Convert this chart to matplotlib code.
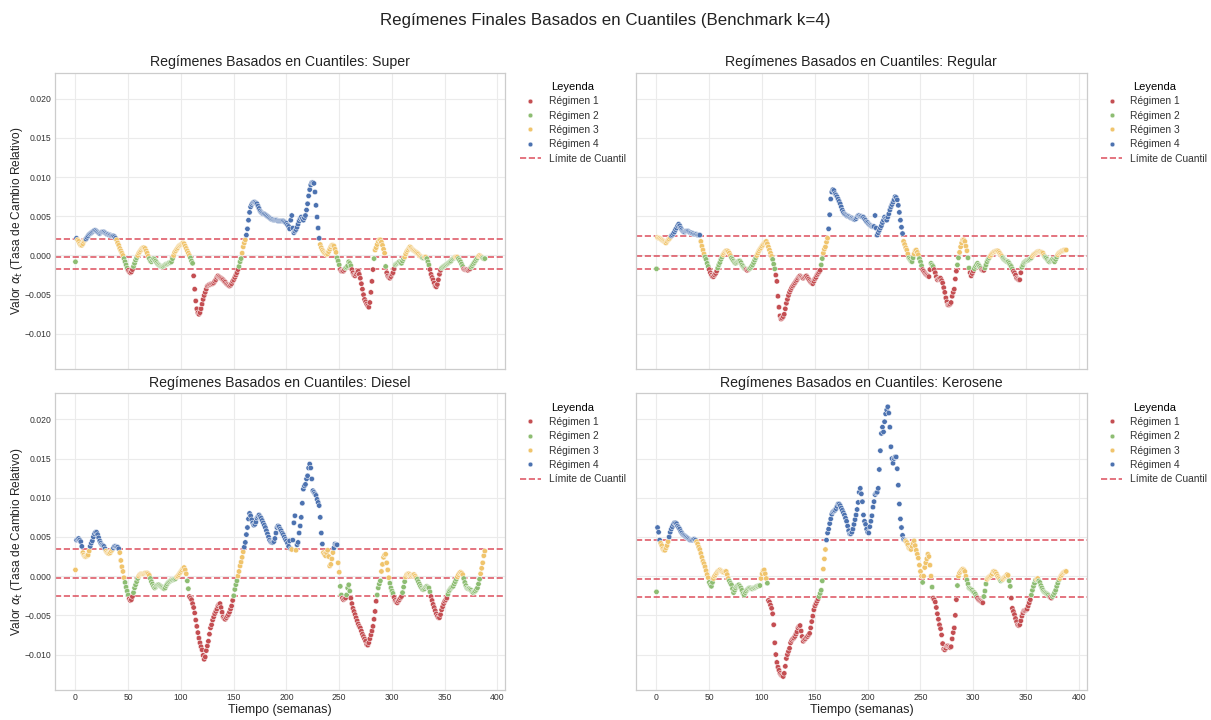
import numpy as np
import matplotlib
matplotlib.use("Agg")
import matplotlib.pyplot as plt
from matplotlib.lines import Line2D

plt.rcParams['font.family'] = ['Liberation Sans', 'DejaVu Sans']

# ---- data: alpha_t values in units of 1e-4, weekly (t = 0..388) ----
super_e4 = [
    -8, 22, 20, 18, 15, 13, 13, 15, 18, 20,
    21, 23, 25, 27, 28, 29, 30, 31, 32, 32,
    31, 30, 29, 28, 29, 30, 30, 30, 29, 28,
    27, 27, 26, 26, 25, 25, 25, 24, 22, 20,
    16, 13, 9, 6, 3, 0, -4, -8, -12, -16,
    -19, -21, -22, -21, -18, -14, -10, -6, -3, 0,
    3, 5, 7, 9, 10, 10, 9, 6, 3, -1,
    -4, -7, -8, -6, -4, -5, -7, -9, -11, -12,
    -13, -14, -14, -14, -13, -12, -11, -11, -10, -9,
    -9, -8, -4, 0, 4, 6, 8, 10, 12, 13,
    14, 15, 16, 15, 12, 9, 6, 3, 0, -3,
    -7, -10, -26, -43, -58, -68, -73, -75, -73, -68,
    -62, -56, -51, -47, -43, -39, -38, -37, -37, -36,
    -36, -35, -33, -31, -28, -26, -27, -28, -29, -30,
    -31, -33, -34, -36, -37, -38, -39, -38, -36, -33,
    -31, -28, -25, -22, -18, -14, -8, -4, 3, 11,
    16, 20, 26, 34, 45, 55, 62, 65, 67, 68,
    68, 67, 66, 63, 60, 57, 55, 54, 53, 53,
    52, 51, 50, 49, 48, 47, 46, 46, 45, 45,
    45, 45, 44, 44, 44, 44, 44, 44, 43, 42,
    41, 39, 37, 34, 45, 51, 35, 29, 31, 33,
    36, 40, 44, 47, 49, 47, 45, 48, 51, 58,
    66, 76, 84, 90, 93, 93, 92, 81, 64, 49,
    35, 22, 14, 10, 7, 5, 3, 2, 1, 2,
    5, 8, 11, 13, 13, 12, 8, 4, -3, -7,
    -12, -18, -20, -20, -20, -18, -16, -15, -13, -8,
    -10, -13, -18, -22, -25, -26, -24, -22, -20, -24,
    -29, -36, -43, -50, -56, -59, -62, -64, -66, -60,
    -47, -33, -18, -4, 7, 10, 14, 18, 20, 20,
    17, 13, 8, 3, -14, -22, -26, -28, -29, -27,
    -24, -22, -17, -12, -11, -10, -9, -8, -9, -10,
    -7, -4, -2, 2, 5, 7, 9, 11, 10, 8,
    7, 6, 5, 4, 3, 2, 0, -1, -2, -3,
    -3, -2, -2, -4, -8, -12, -18, -24, -28, -31,
    -35, -39, -40, -37, -31, -24, -19, -16, -15, -14,
    -13, -12, -11, -10, -9, -8, -7, -5, -4, -3,
    -2, -2, -2, -4, -6, -8, -11, -14, -17, -18,
    -18, -18, -19, -18, -17, -15, -13, -11, -9, -7,
    -5, -3, -1, 0, -1, -2, -3, -4, -4,
]

regular_e4 = [
    -17, 23, 22, 22, 21, 20, 19, 18, 17, 16,
    18, 20, 21, 23, 25, 26, 28, 30, 33, 35,
    38, 40, 38, 35, 33, 31, 30, 30, 31, 31,
    31, 30, 29, 29, 28, 28, 27, 27, 27, 26,
    26, 26, 18, 12, 7, 2, -2, -5, -10, -14,
    -18, -22, -25, -27, -27, -25, -23, -20, -16, -12,
    -9, -5, -2, 1, 3, 5, 6, 6, 5, 3,
    0, -3, -5, -7, -9, -10, -9, -8, -7, -7,
    -9, -12, -14, -16, -17, -18, -19, -18, -17, -16,
    -14, -12, -9, -6, -3, 0, 3, 6, 8, 10,
    12, 14, 16, 17, 18, 15, 11, 7, 3, -1,
    -5, -11, -17, -25, -33, -52, -66, -77, -81, -80,
    -78, -75, -68, -61, -56, -51, -47, -44, -41, -39,
    -37, -35, -33, -31, -29, -27, -26, -27, -28, -29,
    -28, -27, -26, -28, -30, -32, -34, -35, -36, -33,
    -30, -28, -25, -23, -21, -19, -12, -4, 3, 8,
    11, 17, 22, 34, 52, 72, 81, 84, 83, 79,
    77, 75, 72, 69, 66, 62, 58, 55, 53, 52,
    51, 50, 50, 49, 48, 48, 47, 46, 46, 47,
    49, 51, 51, 50, 50, 49, 49, 47, 45, 43,
    42, 40, 39, 38, 37, 37, 37, 51, 35, 26,
    29, 32, 35, 38, 42, 45, 49, 47, 45, 49,
    53, 58, 62, 65, 68, 71, 75, 74, 71, 64,
    55, 45, 36, 28, 18, 14, 10, 7, 2, -3,
    -5, -7, -8, -3, 2, 6, 7, 4, 1, -4,
    -8, -13, -18, -20, -22, -24, -25, -26, -27, -18,
    -10, -12, -14, -18, -22, -27, -31, -30, -29, -29,
    -32, -35, -41, -47, -54, -59, -63, -63, -62, -60,
    -52, -47, -43, -30, -20, -12, -3, 4, 11, 16,
    20, 20, 18, 12, 6, -3, -16, -22, -26, -23,
    -20, -17, -14, -12, -10, -12, -14, -16, -18, -19,
    -19, -16, -12, -8, -5, -3, -1, 1, 3, 4,
    5, 5, 6, 6, 5, 3, 1, -1, -3, -5,
    -6, -7, -8, -8, -10, -12, -14, -17, -20, -22,
    -25, -29, -30, -31, -31, -22, -15, -12, -9, -8,
    -7, -6, -6, -5, -4, -3, -1, 1, 2, 3,
    4, 5, 5, 5, 4, 4, 3, 0, -2, -3,
    -5, -7, -8, -7, -6, -5, -6, -8, -5, -2,
    1, 3, 4, 5, 6, 6, 7, 7, 7,
]

diesel_e4 = [
    8, 46, 47, 48, 46, 44, 38, 30, 27, 25,
    25, 26, 27, 32, 38, 42, 45, 50, 54, 56,
    56, 53, 49, 45, 42, 40, 39, 38, 35, 32,
    30, 29, 29, 30, 32, 34, 36, 38, 38, 37,
    37, 35, 30, 20, 12, 6, -2, -8, -14, -19,
    -24, -29, -31, -30, -26, -21, -15, -11, -7, -3,
    0, 2, 3, 3, 3, 3, 4, 4, 4, 3,
    1, -3, -7, -10, -13, -15, -14, -12, -11, -11,
    -12, -13, -14, -15, -16, -15, -12, -10, -8, -7,
    -6, -5, -5, -4, -4, -3, -1, 0, 2, 4,
    6, 8, 10, 11, 8, 3, -6, -16, -26, -28,
    -30, -35, -40, -47, -56, -64, -72, -79, -85, -90,
    -94, -101, -106, -103, -95, -89, -83, -74, -66, -62,
    -56, -52, -48, -45, -42, -38, -36, -35, -40, -46,
    -52, -54, -55, -53, -51, -49, -46, -42, -38, -31,
    -25, -17, -11, -6, 0, 6, 13, 18, 24, 31,
    37, 43, 53, 62, 73, 80, 77, 72, 68, 65,
    66, 69, 74, 76, 78, 76, 74, 71, 68, 65,
    62, 58, 54, 50, 46, 44, 43, 43, 44, 48,
    55, 62, 64, 63, 60, 58, 55, 53, 50, 47,
    45, 42, 38, 45, 35, 34, 46, 68, 77, 33,
    40, 43, 55, 64, 75, 93, 111, 115, 117, 124,
    128, 138, 143, 138, 124, 109, 107, 105, 103, 98,
    94, 90, 75, 55, 41, 30, 28, 26, 30, 33,
    25, 13, 15, 22, 30, 36, 41, 40, 40, 17,
    5, -13, -24, -28, -30, -29, -28, -24, -15, -11,
    -19, -28, -35, -41, -45, -49, -53, -57, -61, -64,
    -66, -70, -74, -77, -80, -83, -87, -88, -85, -80,
    -75, -70, -64, -55, -45, -32, -24, -15, -10, -6,
    6, 15, 24, 27, 28, 17, 8, -2, -9, -15,
    -19, -22, -27, -31, -33, -34, -32, -30, -28, -26,
    -21, -14, -7, -1, 2, 3, 3, 2, 0, 1,
    2, 2, 0, -2, -4, -7, -10, -13, -15, -17,
    -17, -16, -14, -13, -14, -15, -20, -26, -31, -36,
    -40, -44, -48, -51, -53, -53, -49, -43, -39, -35,
    -32, -30, -28, -23, -19, -17, -15, -14, -13, -10,
    -7, -4, -1, 2, 4, 5, 4, 2, -3, -8,
    -12, -15, -16, -16, -17, -18, -20, -21, -20, -19,
    -17, -15, -10, -4, 3, 10, 17, 26, 32,
]

kerosene_e4 = [
    -20, 62, 56, 46, 42, 39, 35, 33, 33, 36,
    39, 44, 50, 56, 60, 63, 66, 68, 68, 67,
    64, 62, 60, 57, 55, 53, 52, 51, 50, 49,
    48, 47, 46, 46, 46, 47, 47, 46, 44, 41,
    37, 34, 29, 24, 19, 16, 12, 7, 2, -2,
    -8, -11, -13, -8, -3, 0, 2, 4, 6, 7,
    8, 7, 6, 5, 5, 6, 6, 2, -3, -6,
    -9, -11, -16, -21, -18, -15, -13, -12, -11, -13,
    -15, -18, -22, -24, -21, -19, -17, -16, -15, -15,
    -16, -16, -15, -15, -14, -13, -13, -12, -12, -3,
    3, 7, 8, 3, -3, -9, -31, -33, -37, -41,
    -48, -62, -85, -100, -110, -116, -120, -124, -126, -127,
    -128, -124, -115, -105, -100, -96, -92, -85, -82, -80,
    -79, -77, -74, -71, -66, -64, -63, -70, -77, -83,
    -81, -80, -78, -77, -75, -73, -66, -58, -51, -43,
    -38, -35, -32, -29, -26, -22, -18, -6, 9, 22,
    34, 46, 55, 60, 67, 73, 79, 82, 83, 84,
    86, 89, 92, 92, 90, 87, 84, 81, 78, 74,
    70, 64, 58, 54, 54, 56, 60, 66, 72, 78,
    85, 94, 107, 112, 105, 95, 78, 70, 66, 60,
    56, 55, 63, 70, 77, 88, 95, 104, 106, 107,
    112, 136, 160, 182, 190, 184, 197, 207, 212, 216,
    208, 190, 165, 150, 144, 150, 152, 152, 137, 116,
    92, 73, 62, 52, 47, 46, 45, 43, 40, 36,
    35, 34, 38, 42, 45, 39, 33, 28, 23, 14,
    6, 0, -8, 0, 11, 17, 22, 28, 25, 14,
    0, -14, -28, -30, -33, -40, -48, -55, -62, -67,
    -75, -86, -93, -94, -92, -89, -89, -90, -91, -90,
    -80, -72, -66, -50, -30, -12, 0, 4, 6, 8,
    9, 8, 6, 0, -5, -10, -15, -16, -17, -18,
    -20, -21, -23, -26, -28, -30, -31, -32, -33, -34,
    -26, -19, -10, -4, -2, -1, 0, 1, 3, 6,
    6, 5, 3, 0, -2, -4, -6, -5, -4, -2,
    -1, 0, 2, 1, -6, -13, -28, -41, -45, -49,
    -54, -58, -62, -63, -62, -57, -51, -47, -44, -44,
    -43, -42, -38, -34, -30, -24, -18, -13, -9, -5,
    -4, -3, -6, -8, -12, -15, -18, -20, -21, -22,
    -23, -24, -26, -27, -28, -26, -24, -21, -18, -13,
    -9, -5, -3, 0, 2, 4, 5, 6, 6,
]

fuels = ["Super", "Regular", "Diesel", "Kerosene"]
# quantile boundaries (lower, middle, upper)
cuts_super = [-0.0017, -0.0002, 0.0021]
cuts_regular = [-0.00175, -0.0001, 0.0025]
cuts_diesel = [-0.0025, -0.0002, 0.0035]
cuts_kerosene = [-0.00265, -0.0004, 0.0046]

regime_labels = ["Régimen 1", "Régimen 2", "Régimen 3", "Régimen 4"]
regime_colors = ["#c44e52", "#8dbd72", "#f0c46c", "#4c72b0"]
line_color = "#d9404f"

series = [super_e4, regular_e4, diesel_e4, kerosene_e4]
cuts = [cuts_super, cuts_regular, cuts_diesel, cuts_kerosene]

W, H = 1211, 720
fig, axes = plt.subplots(2, 2, sharex=True, sharey=True, figsize=(W / 100, H / 100), dpi=100)
fig.patch.set_facecolor("white")

positions = {
    (0, 0): [55, 72.7, 505.3, 369.3],
    (0, 1): [636, 72.7, 1086.7, 369.3],
    (1, 0): [55, 393.3, 505.3, 690],
    (1, 1): [636, 393.3, 1086.7, 690],
}

for idx, (name, vals_e4, cut) in enumerate(zip(fuels, series, cuts)):
    r, c = divmod(idx, 2)
    ax = axes[r, c]
    x0, y0, x1, y1 = positions[(r, c)]
    ax.set_position([x0 / W, 1 - y1 / H, (x1 - x0) / W, (y1 - y0) / H])
    ax.set_facecolor("white")

    vals = np.array(vals_e4) * 1e-4
    t = np.arange(len(vals))
    reg = np.digitize(vals, cut)  # 0..3
    cols = [regime_colors[k] for k in reg]

    ax.set_axisbelow(True)
    ax.grid(True, which="major", color="#ebebeb", linewidth=0.8)

    ax.scatter(t, vals, c=cols, s=15, edgecolors="white", linewidths=0.35, zorder=3)
    for q in cut:
        ax.axhline(q, color=line_color, linestyle="--", linewidth=1.2, alpha=0.85, zorder=2)

    ax.set_title(f"Regímenes Basados en Cuantiles: {name}", fontsize=10.2, pad=4.5, color="#222222")
    for s in ax.spines.values():
        s.set_color("#cccccc")
        s.set_linewidth(0.9)
    ax.tick_params(which="major", length=0, labelsize=6.2, colors="#333333", pad=2.5)

    if r == 1:
        ax.set_xlabel("Tiempo (semanas)", fontsize=9, labelpad=1, color="#222222")
    if c == 0:
        ax.set_ylabel(r"Valor $\alpha_t$ (Tasa de Cambio Relativo)", fontsize=8.6, color="#222222")
        ax.yaxis.set_label_coords(-0.066, 0.5)

    handles = [Line2D([0], [0], marker="o", linestyle="none", markersize=3.4,
                      markerfacecolor=col, markeredgecolor="white", markeredgewidth=0.3)
               for col in regime_colors]
    handles.append(Line2D([0], [0], color=line_color, linestyle="--", linewidth=1.2, alpha=0.85))
    leg = ax.legend(handles, regime_labels + ["Límite de Cuantil"], title="Leyenda",
                    loc="upper left", bbox_to_anchor=(1.012, 1.0), frameon=False,
                    fontsize=7.4, title_fontsize=8, handlelength=2.0, labelspacing=0.42,
                    handletextpad=0.8)
    for txt in leg.get_texts():
        txt.set_color("#333333")

axes[0, 0].set_xticks(np.arange(0, 401, 50))
axes[0, 0].set_yticks(np.arange(-0.010, 0.0201, 0.005))
axes[0, 0].set_xlim(-19.4, 407.4)

fig.suptitle("Regímenes Finales Basados en Cuantiles (Benchmark k=4)", fontsize=12.2, y=0.982, color="#222222")

fig.savefig("out.png", dpi=100, facecolor="white")
